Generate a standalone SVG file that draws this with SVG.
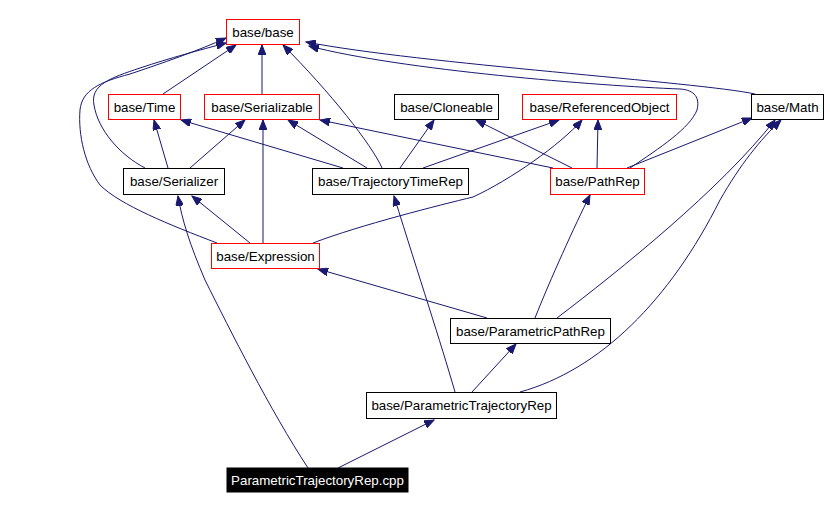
<svg xmlns="http://www.w3.org/2000/svg" width="830" height="510" viewBox="0 0 830 510">
<defs>
<marker id="ah" markerUnits="userSpaceOnUse" markerWidth="11" markerHeight="8" refX="10" refY="4" orient="auto">
<path d="M0,0 L10,4 L0,8 z" fill="#191970" stroke="#191970" stroke-width="1"/>
</marker>
<style>
.n rect{fill:#fff;stroke:#000;stroke-width:1}
.n.r rect{stroke:#ff0000}
.n text{font-family:"Liberation Sans",Arial,sans-serif;font-size:13.33px;fill:#000;text-anchor:middle}
.n.k rect{fill:#000;stroke:#000}
.n.k text{fill:#fff}
#edges path{fill:none;stroke:#191970;stroke-width:1;marker-end:url(#ah)}
</style>
</defs>
<rect width="830" height="510" fill="#fff"/>
<g id="edges">
<path d="M163,94 L236,45"/>
<path d="M262,94 L262,45"/>
<path d="M382,168 C372,145 330,92 283,45"/>
<path d="M755,94 C700,82 420,64 306,42"/>
<path d="M630,168 C660,148 690,128 697,110 C700,98 695,90 680,89 C600,86 400,70 309,46"/>
<path d="M145,168 C120,155 98,130 94,105 C90,85 110,78 140,68 C170,58 200,50 226,43"/>
<path d="M217,243 C170,225 120,205 100,185 C85,165 78,135 80,110 C82,90 100,82 130,74 C160,64 200,50 226,38"/>
<path d="M168,168 L154,120"/>
<path d="M190,168 L245,120"/>
<path d="M343,168 L181,120"/>
<path d="M367,168 L288,120"/>
<path d="M400,168 L434,120"/>
<path d="M423,168 L559,120"/>
<path d="M553,168 L320,120"/>
<path d="M572,168 L476,120"/>
<path d="M597,168 L598,120"/>
<path d="M627,168 L752,118"/>
<path d="M250,243 L192,196"/>
<path d="M263,243 L263,120"/>
<path d="M313,243 C360,225 440,205 473,197 C510,180 560,145 582,120"/>
<path d="M487,318 L318,269"/>
<path d="M535,318 C550,280 575,225 590,195"/>
<path d="M557,318 C620,270 720,190 775,120"/>
<path d="M472,392 L516,344"/>
<path d="M455,392 C440,340 420,280 394,196"/>
<path d="M520,392 C600,370 670,300 720,200 C740,165 760,140 781,120"/>
<path d="M338,468 L434,420"/>
<path d="M308,468 C270,410 230,330 205,280 C190,245 182,220 178,196"/>
</g>
<g id="n_base" class="n r"><rect x="226.5" y="19.5" width="73" height="25"/><text x="263" y="36.5">base/base</text></g>
<g id="n_time" class="n r"><rect x="108.5" y="94.5" width="72" height="25"/><text x="144.5" y="111.5">base/Time</text></g>
<g id="n_serializable" class="n r"><rect x="204.5" y="94.5" width="115" height="25"/><text x="262" y="111.5">base/Serializable</text></g>
<g id="n_cloneable" class="n"><rect x="394.5" y="94.5" width="104" height="25"/><text x="446.5" y="111.5">base/Cloneable</text></g>
<g id="n_refobj" class="n r"><rect x="522.5" y="94.5" width="154" height="25"/><text x="599.5" y="111.5">base/ReferencedObject</text></g>
<g id="n_math" class="n"><rect x="751.5" y="94.5" width="72" height="25"/><text x="787.5" y="111.5">base/Math</text></g>
<g id="n_serializer" class="n"><rect x="123.5" y="168.5" width="101" height="26"/><text x="174" y="186">base/Serializer</text></g>
<g id="n_ttr" class="n"><rect x="312.5" y="168.5" width="156" height="26"/><text x="390.5" y="186">base/TrajectoryTimeRep</text></g>
<g id="n_pathrep" class="n r"><rect x="550.5" y="168.5" width="94" height="26"/><text x="597.5" y="186">base/PathRep</text></g>
<g id="n_expression" class="n r"><rect x="211.5" y="243.5" width="108" height="25"/><text x="265.5" y="260.5">base/Expression</text></g>
<g id="n_ppr" class="n"><rect x="450.5" y="318.5" width="160" height="25"/><text x="530.5" y="335.5">base/ParametricPathRep</text></g>
<g id="n_ptr" class="n"><rect x="366.5" y="392.5" width="190" height="26"/><text x="461.5" y="410">base/ParametricTrajectoryRep</text></g>
<g id="n_cpp" class="n k"><rect x="227" y="468" width="181" height="24"/><text x="317.5" y="485">ParametricTrajectoryRep.cpp</text></g>
</svg>
